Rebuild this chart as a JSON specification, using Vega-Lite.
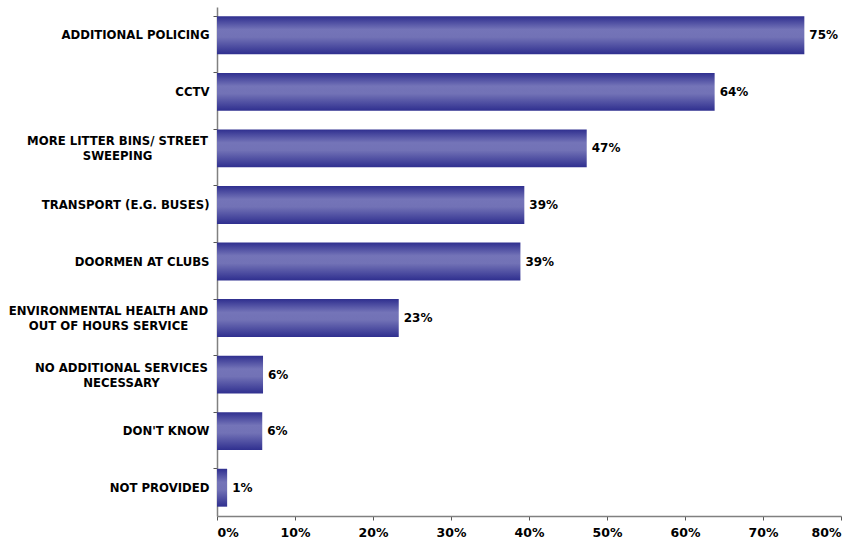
{
  "$schema": "https://vega.github.io/schema/vega-lite/v6.json",
  "width": 624,
  "height": 509,
  "autosize": {"type": "none"},
  "padding": {"left": 217, "top": 7, "right": 18, "bottom": 26},
  "background": "white",
  "config": {"view": {"stroke": null}, "font": "DejaVu Sans"},
  "data": {
    "values": [
      {"item": "ADDITIONAL POLICING", "value": 0.753},
      {"item": "CCTV", "value": 0.638},
      {"item": "MORE LITTER BINS/ STREET|SWEEPING", "value": 0.474},
      {"item": "TRANSPORT (E.G. BUSES)", "value": 0.394},
      {"item": "DOORMEN AT CLUBS", "value": 0.389},
      {"item": "ENVIRONMENTAL HEALTH AND|OUT OF HOURS SERVICE", "value": 0.233},
      {"item": "NO ADDITIONAL SERVICES|NECESSARY", "value": 0.059},
      {"item": "DON'T KNOW", "value": 0.058},
      {"item": "NOT PROVIDED", "value": 0.013}
    ]
  },
  "encoding": {
    "y": {
      "field": "item",
      "type": "nominal",
      "sort": null,
      "scale": {"paddingInner": 0.33, "paddingOuter": 0.165},
      "axis": {
        "title": null,
        "labelExpr": "split(datum.label, '|')",
        "labelFont": "DejaVu Sans",
        "labelFontSize": 11.7,
        "labelFontWeight": "bold",
        "labelColor": "#000000",
        "labelLineHeight": 15,
        "labelAlign": {
          "condition": {"test": "indexof(datum.value, '|') >= 0", "value": "center"},
          "value": "right"
        },
        "labelOffset": {
          "condition": {"test": "indexof(datum.value, '|') >= 0", "value": -7},
          "value": 0
        },
        "labelPadding": {
          "condition": [
            {"test": "datum.value == 'MORE LITTER BINS/ STREET|SWEEPING'", "value": 96},
            {"test": "datum.value == 'ENVIRONMENTAL HEALTH AND|OUT OF HOURS SERVICE'", "value": 105},
            {"test": "datum.value == 'NO ADDITIONAL SERVICES|NECESSARY'", "value": 92}
          ],
          "value": 4
        },
        "labelLimit": 220,
        "bandPosition": 0,
        "tickSize": 4,
        "tickColor": "#555555",
        "domainColor": "#808080",
        "domainWidth": 1.5
      }
    },
    "x": {
      "field": "value",
      "type": "quantitative",
      "scale": {"domain": [0, 0.8], "nice": false},
      "axis": {
        "title": null,
        "format": ".0%",
        "values": [0, 0.1, 0.2, 0.3, 0.4, 0.5, 0.6, 0.7, 0.8],
        "grid": false,
        "labelFont": "DejaVu Sans",
        "labelFontSize": 12.5,
        "labelFontWeight": "bold",
        "labelColor": "#000000",
        "labelPadding": 6,
        "tickSize": 4,
        "tickColor": "#555555",
        "domainColor": "#808080",
        "domainWidth": 1.5
      }
    }
  },
  "layer": [
    {
      "mark": {
        "type": "bar",
        "color": {
          "gradient": "linear",
          "x1": 0, "y1": 0, "x2": 0, "y2": 1,
          "stops": [
            {"offset": 0, "color": "#2f2f8f"},
            {"offset": 0.35, "color": "#7474b8"},
            {"offset": 0.55, "color": "#7272b6"},
            {"offset": 1, "color": "#2f2f8f"}
          ]
        }
      }
    },
    {
      "mark": {
        "type": "text",
        "align": "left",
        "baseline": "middle",
        "dx": 5,
        "font": "DejaVu Sans",
        "fontSize": 12,
        "fontWeight": "bold",
        "color": "#000000"
      },
      "encoding": {
        "text": {"field": "value", "type": "quantitative", "format": ".0%"}
      }
    }
  ]
}
